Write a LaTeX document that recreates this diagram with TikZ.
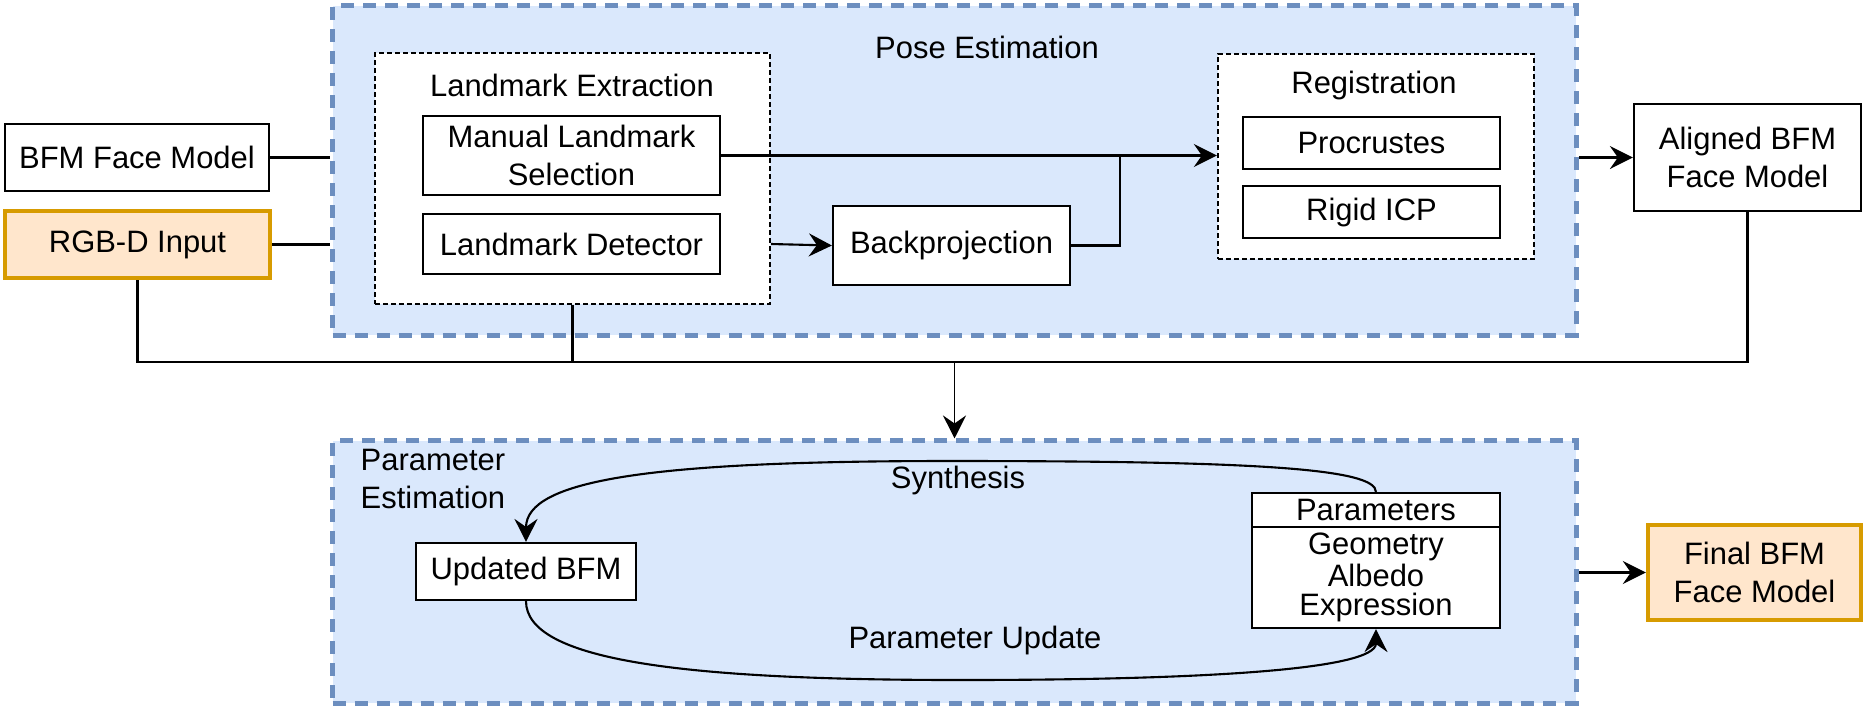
\documentclass[tikz,border=0pt]{standalone}
\usepackage{fontspec}
\setmainfont{Liberation Sans}
\usepackage{tikz}
\usetikzlibrary{arrows.meta}

\definecolor{paneFill}{HTML}{DAE8FC}
\definecolor{paneLine}{HTML}{6C8EBF}
\definecolor{inFill}{HTML}{FFE6CC}
\definecolor{inLine}{HTML}{D79B00}

\begin{document}
\begin{tikzpicture}[
    x=0.01cm, y=-0.01cm,
    font=\fontsize{8.8}{10.8}\selectfont,
    box/.style={draw, line width=0.6pt, fill=white, align=center, inner sep=0pt},
    inbox/.style={box, fill=inFill, draw=inLine, line width=1.2pt},
    pane/.style={draw=paneLine, fill=paneFill, line width=1.4pt, dash pattern=on 0.13cm off 0.09cm, inner sep=0pt},
    group/.style={draw, fill=white, line width=0.6pt, dash pattern=on 0.05cm off 0.03cm, inner sep=0pt},
    arrow/.style={-{Stealth[length=0.23cm, width=0.23cm, inset=0.08cm]}, line width=0.6pt},
    link/.style={line width=0.6pt},
]
\useasboundingbox (0,0) rectangle (1863,705);

% Pose estimation pane
\node[pane, minimum width=12.43cm, minimum height=3.29cm] (pose) at (954.5,170.5) {};
\node (poseLbl) at (987,47) {Pose Estimation};

\node[group, minimum width=3.95cm, minimum height=2.51cm] (lmx) at (572.5,178.5) {};
\node (lmxLbl) at (572,85) {Landmark Extraction};
\node[box, minimum width=2.97cm, minimum height=0.79cm] (manual) at (571.5,155.5) {Manual Landmark\\Selection};
\node[box, minimum width=2.97cm, minimum height=0.6cm] (detector) at (571.5,244) {Landmark Detector};
\node[box, minimum width=2.37cm, minimum height=0.79cm] (backproj) at (951.5,245.5) {Backprojection};

\node[group, minimum width=3.16cm, minimum height=2.05cm] (reg) at (1376,156.5) {};
\node (regLbl) at (1374,85) {Registration};
\node[box, minimum width=2.57cm, minimum height=0.52cm] (procrustes) at (1371.5,143) {Procrustes};
\node[box, minimum width=2.57cm, minimum height=0.52cm] (icp) at (1371.5,212) {Rigid ICP};

% Inputs and aligned model
\node[box, minimum width=2.64cm, minimum height=0.67cm] (bfm) at (137,157.5) {BFM Face Model};
\node[inbox, minimum width=2.65cm, minimum height=0.67cm] (rgbd) at (137.5,244.5) {RGB-D Input};
\node[box, minimum width=2.27cm, minimum height=1.07cm] (aligned) at (1747.5,157.5) {Aligned BFM\\Face Model};

% Parameter estimation pane
\node[pane, minimum width=12.43cm, minimum height=2.62cm] (param) at (954.5,572) {};
\node[align=left, anchor=west, inner sep=0pt] (paramLbl) at (360,479) {Parameter\\Estimation};
\node[box, minimum width=2.2cm, minimum height=0.57cm] (updated) at (526,571.5) {Updated BFM};
\node[box, minimum width=2.48cm, minimum height=0.34cm] (paramHead) at (1376,510) {Parameters};
\node[box, minimum width=2.48cm, minimum height=1.01cm, font=\fontsize{8.8}{8.2}\selectfont] (paramList) at (1376,577.5) {Geometry\\Albedo\\Expression};
\node[inbox, minimum width=2.13cm, minimum height=0.95cm] (final) at (1754.5,572.5) {Final BFM\\Face Model};

% Connectors in pose estimation
\draw[link] (bfm.east) -- (bfm.east -| pose.west);
\draw[link] (rgbd.east) -- (rgbd.east -| pose.west);
\draw[arrow] (manual.east) -- (manual.east -| reg.west);
\draw[arrow] (detector.east -| lmx.east) -- (backproj.west);
\coordinate (merge) at (1120,155.5);
\draw[link] (backproj.east) -| (merge);
\draw[arrow] (aligned.west -| pose.east) -- (aligned.west);

% Feed into parameter estimation
\coordinate (bus) at (954.5,362);
\draw[link] (rgbd.south) |- (bus);
\draw[link] (aligned.south) |- (bus);
\draw[link] (lmx.south) -- (lmx.south |- bus);
\draw[arrow, line width=0.45pt] (bus) -- (param.north);

% Optimisation loop
\draw[arrow] (paramHead.north) .. controls (1376,468) and (1250,461) .. (950,461)
    .. controls (650,461) and (526,480) .. (updated.north);
\draw[arrow] (updated.south) .. controls (526,660) and (680,680) .. (960,680)
    .. controls (1200,680) and (1376,670) .. (paramList.south);
\node (synLbl) at (958,480) {Synthesis};
\node (updLbl) at (975,640) {Parameter Update};

\draw[arrow] (param.east |- final.west) -- (final.west);

\end{tikzpicture}
\end{document}
